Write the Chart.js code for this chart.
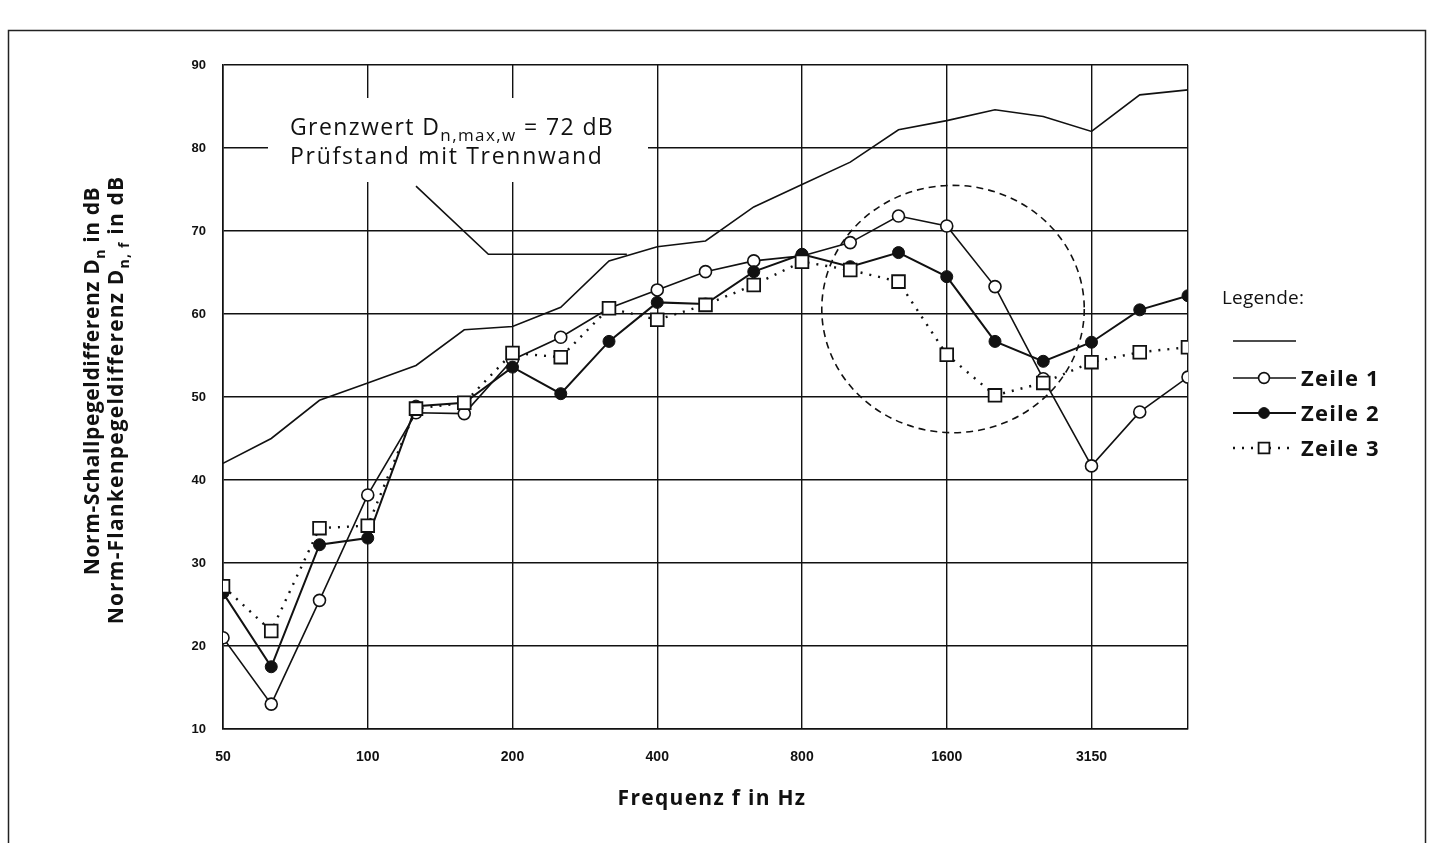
<!DOCTYPE html>
<html>
<head>
<meta charset="utf-8">
<script src="https://cdn.jsdelivr.net/npm/chart.js@4.4.1/dist/chart.umd.min.js"></script>
<style>
  html, body { margin: 0; padding: 0; background: #fff; }
  #wrap { position: relative; width: 1434px; height: 843px; }
</style>
</head>
<body>
<div id="wrap"><canvas id="chart" width="1434" height="843"></canvas></div>
<script>
// third-octave bands, x axis uses the band index 0..20
var bandLabels = ["50", "63", "80", "100", "125", "160", "200", "250", "315", "400", "500",
  "630", "800", "1000", "1250", "1600", "2000", "2500", "3150", "4000", "5000"];
var gridIdx = [0, 3, 6, 9, 12, 15, 18, 20];
var tickIdx = [0, 3, 6, 9, 12, 15, 18];

var grenzwert = [42.0, 45.0, 49.6, 51.7, 53.8, 58.1, 58.5, 60.8, 66.4, 68.1, 68.8,
  72.9, 75.6, 78.3, 82.2, 83.3, 84.6, 83.8, 82.0, 86.4, 87.0];
var zeile1 = [21.0, 13.0, 25.5, 38.2, 48.1, 48.0, 54.5, 57.2, 60.7, 62.9, 65.1,
  66.4, 67.0, 68.6, 71.8, 70.6, 63.3, 52.2, 41.7, 48.2, 52.4];
var zeile2 = [26.4, 17.5, 32.2, 33.0, 48.9, 49.3, 53.6, 50.4, 56.7, 61.4, 61.2,
  65.1, 67.2, 65.7, 67.4, 64.5, 56.7, 54.3, 56.6, 60.5, 62.2];
var zeile3 = [27.2, 21.8, 34.2, 34.5, 48.6, 49.3, 55.3, 54.8, 60.7, 59.3, 61.1,
  63.5, 66.3, 65.3, 63.9, 55.1, 50.2, 51.7, 54.2, 55.4, 56.0];

// Prüfstand mit Trennwand (band index, dB)
var pruefX = [4, 5.5, 8.37];
var pruefY = [75.4, 67.2, 67.2];

// dashed ellipse marking the region around 1600 Hz (band index / dB)
var circleX = 15.13, circleY = 60.6, circleRX = 2.72, circleRY = 14.9;

var INK = "#111";
var FONT = "'Open Sans', sans-serif";

function toPoints(arr) {
  return arr.map(function (v, i) { return { x: i, y: v }; });
}

// text with subscripts; spacing = letter spacing in px
function drawRich(ctx, parts, x, y, size, weight, align, spacing, subRatio) {
  var subSize = Math.round(size * (subRatio || 0.68));
  var total = 0;
  ctx.letterSpacing = (spacing || 0) + "px";
  parts.forEach(function (p) {
    ctx.font = weight + " " + (p.sub ? subSize : size) + "px " + FONT;
    p.w = ctx.measureText(p.t).width;
    total += p.w;
  });
  var cx = align === "center" ? x - total / 2 : x;
  parts.forEach(function (p) {
    ctx.font = weight + " " + (p.sub ? subSize : size) + "px " + FONT;
    ctx.fillText(p.t, cx, p.sub ? y + size * 0.28 : y);
    cx += p.w;
  });
  ctx.letterSpacing = "0px";
}

var decoPlugin = {
  id: "deco",
  beforeDraw: function (chart) {
    var ctx = chart.ctx;
    ctx.save();
    ctx.fillStyle = "#fff";
    ctx.fillRect(0, 0, chart.width, chart.height);
    ctx.strokeStyle = "#222";
    ctx.lineWidth = 1.5;
    ctx.strokeRect(8.5, 30.5, 1417, 830);
    ctx.restore();
  },
  beforeDatasetsDraw: function (chart) {
    var ctx = chart.ctx;
    var xs = chart.scales.x, ys = chart.scales.y;
    ctx.save();
    // white box behind the annotation
    ctx.fillStyle = "#fff";
    ctx.fillRect(268, 98, 380, 84);
    ctx.fillStyle = INK;
    ctx.textAlign = "left";
    ctx.textBaseline = "alphabetic";
    drawRich(ctx, [{ t: "Grenzwert D" }, { t: "n,max,w", sub: true }, { t: " = 72 dB" }],
      290, 135, 23, "normal", "left", 1.4, 0.74);
    drawRich(ctx, [{ t: "Prüfstand mit Trennwand" }], 290, 164, 23, "normal", "left", 1.7);

    // dashed ellipse
    var cx = xs.getPixelForValue(circleX), cy = ys.getPixelForValue(circleY);
    var rx = xs.getPixelForValue(circleX + circleRX) - cx;
    var ry = cy - ys.getPixelForValue(circleY + circleRY);
    ctx.strokeStyle = INK;
    ctx.lineWidth = 1.6;
    ctx.setLineDash([7, 5]);
    ctx.beginPath();
    ctx.ellipse(cx, cy, rx, ry, 0, 0, Math.PI * 2);
    ctx.stroke();
    ctx.restore();
  },
  afterDraw: function (chart) {
    var ctx = chart.ctx;
    ctx.save();
    ctx.fillStyle = INK;
    ctx.textAlign = "left";
    ctx.textBaseline = "alphabetic";

    // x title
    drawRich(ctx, [{ t: "Frequenz f in Hz" }], 712, 805, 21, "bold", "center", 1.3);

    // y titles (rotated)
    ctx.save();
    ctx.translate(99, 381);
    ctx.rotate(-Math.PI / 2);
    drawRich(ctx, [{ t: "Norm-Schallpegeldifferenz D" }, { t: "n", sub: true }, { t: " in dB" }],
      0, 0, 21, "bold", "center", 0.6);
    ctx.restore();
    ctx.save();
    ctx.translate(123, 400);
    ctx.rotate(-Math.PI / 2);
    drawRich(ctx, [{ t: "Norm-Flankenpegeldifferenz D" }, { t: "n, f", sub: true }, { t: " in dB" }],
      0, 0, 21, "bold", "center", 1.2);
    ctx.restore();

    // legend
    drawRich(ctx, [{ t: "Legende:" }], 1222, 304, 19, "normal", "left", 0.2);
    var rows = [
      { y: 341, ds: 0, label: "" },
      { y: 378, ds: 2, label: "Zeile 1" },
      { y: 413, ds: 3, label: "Zeile 2" },
      { y: 448, ds: 4, label: "Zeile 3" }
    ];
    rows.forEach(function (r) {
      var ds = chart.data.datasets[r.ds];
      ctx.save();
      ctx.strokeStyle = INK;
      ctx.lineWidth = ds.borderWidth;
      ctx.setLineDash(ds.borderDash || []);
      ctx.beginPath();
      ctx.moveTo(1233, r.y);
      ctx.lineTo(1296, r.y);
      ctx.stroke();
      ctx.setLineDash([]);
      if (ds.pointRadius > 0) {
        ctx.fillStyle = ds.pointBackgroundColor;
        ctx.strokeStyle = INK;
        ctx.lineWidth = ds.pointBorderWidth;
        ctx.beginPath();
        if (ds.pointStyle === "rect") {
          var s = ds.pointRadius * Math.SQRT1_2 * 0.85;
          ctx.rect(1264 - s, r.y - s, 2 * s, 2 * s);
        } else {
          ctx.arc(1264, r.y, ds.pointRadius * 0.9, 0, Math.PI * 2);
        }
        ctx.fill();
        ctx.stroke();
      }
      ctx.restore();
      if (r.label) {
        drawRich(ctx, [{ t: r.label }], 1301, r.y + 8, 22, "bold", "left", 1.2);
      }
    });
    ctx.restore();
  }
};

var ctx = document.getElementById("chart").getContext("2d");
var chart = new Chart(ctx, {
  type: "line",
  data: {
    datasets: [
      {
        label: "Grenzwert",
        data: toPoints(grenzwert),
        borderColor: INK,
        borderWidth: 1.6,
        pointRadius: 0,
        order: 5
      },
      {
        label: "Prüfstand mit Trennwand",
        data: pruefX.map(function (x, i) { return { x: x, y: pruefY[i] }; }),
        borderColor: INK,
        borderWidth: 1.6,
        pointRadius: 0,
        order: 5
      },
      {
        label: "Zeile 1",
        data: toPoints(zeile1),
        borderColor: INK,
        borderWidth: 1.6,
        pointStyle: "circle",
        pointRadius: 6,
        pointBorderWidth: 1.6,
        pointBackgroundColor: "#fff",
        pointBorderColor: INK,
        order: 3
      },
      {
        label: "Zeile 2",
        data: toPoints(zeile2),
        borderColor: INK,
        borderWidth: 2,
        pointStyle: "circle",
        pointRadius: 6,
        pointBorderWidth: 1,
        pointBackgroundColor: INK,
        pointBorderColor: INK,
        order: 2
      },
      {
        label: "Zeile 3",
        data: toPoints(zeile3),
        borderColor: INK,
        borderWidth: 2.4,
        borderDash: [2, 7],
        pointStyle: "rect",
        pointRadius: 9,
        pointBorderWidth: 1.8,
        pointBackgroundColor: "#fff",
        pointBorderColor: INK,
        order: 1
      }
    ]
  },
  options: {
    responsive: false,
    devicePixelRatio: 1,
    animation: false,
    layout: { padding: { left: 0, top: 65, right: 246, bottom: 0 } },
    plugins: {
      legend: { display: false },
      tooltip: { enabled: false }
    },
    scales: {
      x: {
        type: "linear",
        min: 0,
        max: 20,
        afterBuildTicks: function (scale) {
          scale.ticks = gridIdx.map(function (v) { return { value: v }; });
        },
        afterFit: function (scale) { scale.height = 114; },
        grid: { color: INK, lineWidth: 1.4, drawTicks: false },
        border: { color: INK, width: 1.6 },
        ticks: {
          padding: 20,
          color: INK,
          maxRotation: 0,
          autoSkip: false,
          font: { family: "'Liberation Sans', Arial, sans-serif", size: 14, weight: "bold" },
          callback: function (value) {
            var k = tickIdx.indexOf(value);
            return k >= 0 ? bandLabels[value] : "";
          }
        }
      },
      y: {
        min: 10,
        max: 90,
        afterFit: function (scale) { scale.width = 223; },
        grid: { color: INK, lineWidth: 1.4, drawTicks: false },
        border: { color: INK, width: 1.6 },
        ticks: {
          stepSize: 10,
          padding: 17,
          color: INK,
          font: { family: "'Liberation Sans', Arial, sans-serif", size: 13, weight: "bold" }
        }
      }
    }
  },
  plugins: [decoPlugin]
});
</script>
</body>
</html>
